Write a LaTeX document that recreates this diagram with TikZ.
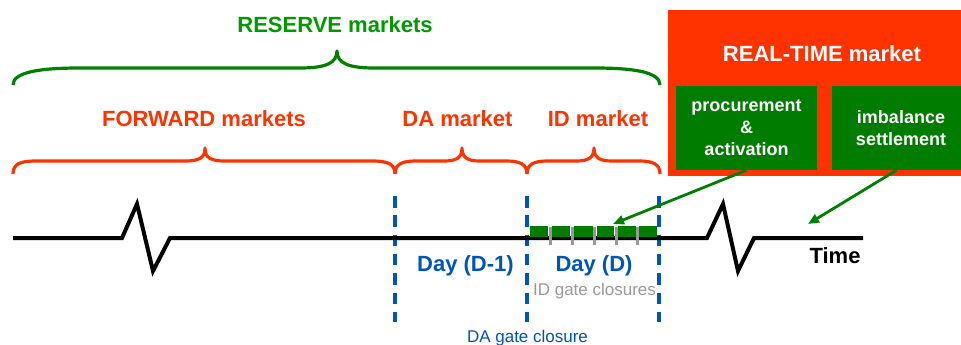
\documentclass[tikz,border=0pt]{standalone}
\usepackage{fontspec}
\setmainfont{Liberation Sans}
\usetikzlibrary{arrows.meta}
\definecolor{rgreen}{HTML}{009900}
\definecolor{bgreen}{HTML}{008000}
\definecolor{boxgreen}{HTML}{007D00}
\definecolor{rred}{HTML}{FF3300}
\definecolor{dblue}{HTML}{0055BB}
\definecolor{tgray}{HTML}{999999}
\tikzset{
  bracered/.style={draw=rred, line width=3.2pt, line join=round},
  bracegreen/.style={draw=bgreen, line width=3.2pt, line join=round},
  bigtxt/.style={font=\fontsize{22}{26}\selectfont\bfseries, anchor=base, inner sep=0pt},
  boxtxt/.style={font=\fontsize{18}{22}\selectfont\bfseries, text=white, align=center, inner sep=0pt},
  gatedash/.style={draw=dblue, line width=3.3pt, dash pattern=on 11.5pt off 7.8pt},
  arrowg/.style={draw=bgreen, line width=2.8pt, -{Triangle[length=11pt,width=9pt]}},
  timeline/.style={draw=black, line width=4pt, line join=miter},
}
\begin{document}
\begin{tikzpicture}[x=1pt,y=-1pt]
\useasboundingbox (0,0) rectangle (961,345);
% real-time box
\node[fill=rred, minimum width=293pt, minimum height=166pt, inner sep=0pt] (rt) at (814.5,93) {};
\node[bigtxt, text=white] (rtt) at (822,62) {REAL-TIME market};
\node[fill=boxgreen, minimum width=141pt, minimum height=84pt, boxtxt] (proc) at (746.5,128) {procurement\\\&\\activation};
\node[fill=boxgreen, minimum width=129pt, minimum height=84pt, inner sep=0pt] (imb) at (896.5,128) {};
\node[boxtxt] (imbt) at (901,128) {imbalance\\settlement};
% headings
\node[bigtxt, text=rgreen] (res) at (335,33) {RESERVE markets};
\node[bigtxt, text=rred] (fwd) at (204,126) {FORWARD markets};
\node[bigtxt, text=rred] (da) at (457.5,126) {DA market};
\node[bigtxt, text=rred] (id) at (598,126) {ID market};
% braces
\path[bracegreen] (13,85) .. controls (13,72) and (40,68) .. (80,68) -- (300,68)
  .. controls (326,68) and (337,63) .. (337,51) .. controls (337,63) and (348,68) .. (374,68)
  -- (594,68) .. controls (634,68) and (660,72) .. (660,85);
\path[bracered] (13,174) .. controls (13,164) and (20,161) .. (36,161) -- (185,161)
  .. controls (199,161) and (205,158) .. (205,148) .. controls (205,158) and (211,161) .. (225,161)
  -- (372,161) .. controls (388,161) and (395,164) .. (395,174);
\path[bracered] (395,174) .. controls (395,164) and (402,161) .. (416,161) -- (444,161)
  .. controls (456,161) and (462,158) .. (462,148) .. controls (462,158) and (468,161) .. (480,161)
  -- (506,161) .. controls (520,161) and (527,164) .. (527,174);
\path[bracered] (527,174) .. controls (527,164) and (534,161) .. (548,161) -- (576,161)
  .. controls (588,161) and (594,158) .. (594,148) .. controls (594,158) and (600,161) .. (612,161)
  -- (639,161) .. controls (653,161) and (660,164) .. (660,174);
% gate lines
\draw[gatedash] (395,196) -- (395,322);
\draw[gatedash] (527,196) -- (527,322);
\draw[gatedash] (659,196) -- (659,322);
% timeline
\draw[timeline] (13,238) -- (122,238) -- (137,204) -- (153,271) -- (170,238) -- (707,238)
  -- (723,204) -- (738,271) -- (754,238) -- (863,238);
% ID gate ticks
\foreach \x in {550,572,594,616,637} {\draw[tgray, line width=3pt] (\x,227) -- (\x,245);}
% ID products
\foreach \a/\b in {530/548,552/570,574/593,597/614,618/636,639/657} {\fill[boxgreen] (\a,226) rectangle (\b,236.5);}
% arrows
\coordinate (t1) at (613,224);
\coordinate (t2) at (808,224);
\draw[arrowg] (proc.south) -- (t1);
\draw[arrowg] (imb.south) -- (t2);
% labels
\node[bigtxt, text=dblue] (d1) at (465.5,271) {Day (D-1)};
\node[bigtxt, text=dblue] (d0) at (594,271) {Day (D)};
\node[bigtxt, text=black] (time) at (835,263) {Time};
\node[font=\fontsize{17}{20}\selectfont, text=tgray, anchor=base, inner sep=0pt] (idg) at (594.5,295) {ID gate closures};
\node[font=\fontsize{17}{20}\selectfont, text=dblue, anchor=base, inner sep=0pt] (dag) at (527.5,342) {DA gate closure};
\end{tikzpicture}
\end{document}
